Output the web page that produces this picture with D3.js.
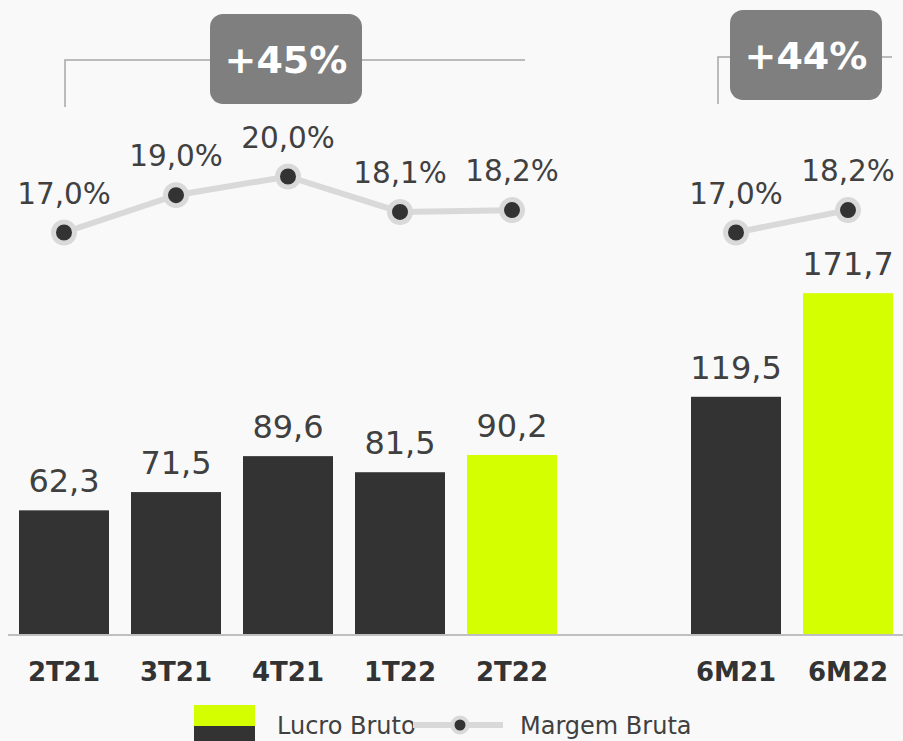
<!DOCTYPE html>
<html>
<head>
<meta charset="utf-8">
<script src="https://cdn.jsdelivr.net/npm/d3@7"></script>
<style>
  html, body { margin: 0; padding: 0; background: #f9f9f9; overflow: hidden; }
  svg { display: block; font-family: "DejaVu Sans", Verdana, sans-serif; }
</style>
</head>
<body>
<svg id="chart" width="903" height="741"></svg>
<script>
// quarterly data
const quarters = ["2T21", "3T21", "4T21", "1T22", "2T22"];
const quarterProfit = [62.3, 71.5, 89.6, 81.5, 90.2];
const quarterMargin = [17.0, 19.0, 20.0, 18.1, 18.2];

// half-year data
const halves = ["6M21", "6M22"];
const halfProfit = [119.5, 171.7];
const halfMargin = [17.0, 18.2];

const growthLabels = ["+45%", "+44%"];

const fmt = v => v.toFixed(1).replace(".", ",");

const dark = "#333333", lime = "#d4ff00", textCol = "#404040", lineCol = "#d9d9d9";

const svg = d3.select("#chart");

const x = d3.scaleBand()
    .domain([...quarters, "gap", ...halves])
    .range([8, 904])
    .paddingInner(22 / 112)
    .paddingOuter(11 / 112);

const y = d3.scaleLinear().domain([0, 200]).range([634, 237]);
const yM = d3.scaleLinear().domain([17, 20]).range([232.5, 176.5]);

function group(cats, profit, margin) {
    const rows = cats.map((c, i) => ({cat: c, profit: profit[i], margin: margin[i], last: i === cats.length - 1}));

    svg.append("g").selectAll("rect")
        .data(rows)
        .enter().append("rect")
        .attr("x", d => x(d.cat))
        .attr("y", d => y(d.profit))
        .attr("width", x.bandwidth())
        .attr("height", d => y(0) - y(d.profit))
        .attr("fill", d => d.last ? lime : dark);

    svg.append("g").selectAll("text")
        .data(rows)
        .enter().append("text")
        .attr("x", d => x(d.cat) + x.bandwidth() / 2)
        .attr("y", d => y(d.profit) - 18)
        .attr("text-anchor", "middle")
        .attr("font-size", 32)
        .attr("fill", textCol)
        .text(d => fmt(d.profit));

    const cx = d => x(d.cat) + x.bandwidth() / 2;

    svg.append("path")
        .datum(rows)
        .attr("fill", "none")
        .attr("stroke", lineCol)
        .attr("stroke-width", 6)
        .attr("d", d3.line().x(cx).y(d => yM(d.margin)));

    svg.append("g").selectAll("circle")
        .data(rows)
        .enter().append("circle")
        .attr("cx", cx)
        .attr("cy", d => yM(d.margin))
        .attr("r", 10.5)
        .attr("fill", dark)
        .attr("stroke", lineCol)
        .attr("stroke-width", 5);

    svg.append("g").selectAll("text")
        .data(rows)
        .enter().append("text")
        .attr("x", cx)
        .attr("y", d => yM(d.margin) - 29)
        .attr("text-anchor", "middle")
        .attr("font-size", 29.5)
        .attr("fill", textCol)
        .text(d => fmt(d.margin) + "%");
}

group(quarters, quarterProfit, quarterMargin);
group(halves, halfProfit, halfMargin);

// baseline
svg.append("line")
    .attr("x1", 8).attr("x2", 903)
    .attr("y1", 635).attr("y2", 635)
    .attr("stroke", "#bfbfbf")
    .attr("stroke-width", 2);

// category labels
svg.append("g").selectAll("text")
    .data([...quarters, ...halves])
    .enter().append("text")
    .attr("x", d => x(d) + x.bandwidth() / 2)
    .attr("y", 681)
    .attr("text-anchor", "middle")
    .attr("font-size", 26)
    .attr("font-weight", "bold")
    .attr("fill", dark)
    .text(d => d);

// growth brackets
function bracket(x0, x1, ly, lyBottom, bx, by, label) {
    svg.append("path")
        .attr("d", `M${x0},${lyBottom}V${ly}H${x1}`)
        .attr("fill", "none")
        .attr("stroke", "#a6a6a6")
        .attr("stroke-width", 1.5);
    svg.append("rect")
        .attr("x", bx).attr("y", by)
        .attr("width", 152).attr("height", 90)
        .attr("rx", 13)
        .attr("fill", "#7f7f7f");
    svg.append("text")
        .attr("x", bx + 76)
        .attr("y", by + 59)
        .attr("text-anchor", "middle")
        .attr("font-size", 38)
        .attr("font-weight", "bold")
        .attr("fill", "#ffffff")
        .text(label);
}

const qc0 = x(quarters[0]) + x.bandwidth() / 2;
const qc1 = x(quarters[quarters.length - 1]) + x.bandwidth() / 2;
bracket(qc0 + 1, qc1 + 13, 60, 107, 210, 14, growthLabels[0]);

const hc0 = x(halves[0]) + x.bandwidth() / 2;
const hc1 = x(halves[1]) + x.bandwidth() / 2;
bracket(hc0 - 18, hc1 + 44, 57, 104, 730, 10, growthLabels[1]);

// legend
const lg = svg.append("g");
lg.append("rect").attr("x", 194).attr("y", 705).attr("width", 61).attr("height", 21).attr("fill", lime);
lg.append("rect").attr("x", 194).attr("y", 726).attr("width", 61).attr("height", 21).attr("fill", dark);
lg.append("text").attr("x", 277).attr("y", 734).attr("font-size", 24).attr("fill", textCol).text("Lucro Bruto");
lg.append("line").attr("x1", 413).attr("x2", 503).attr("y1", 725).attr("y2", 725)
    .attr("stroke", lineCol).attr("stroke-width", 6);
lg.append("circle").attr("cx", 460).attr("cy", 725).attr("r", 7.5)
    .attr("fill", dark).attr("stroke", lineCol).attr("stroke-width", 4);
lg.append("text").attr("x", 520).attr("y", 734).attr("font-size", 24).attr("fill", textCol).text("Margem Bruta");
</script>
</body>
</html>
